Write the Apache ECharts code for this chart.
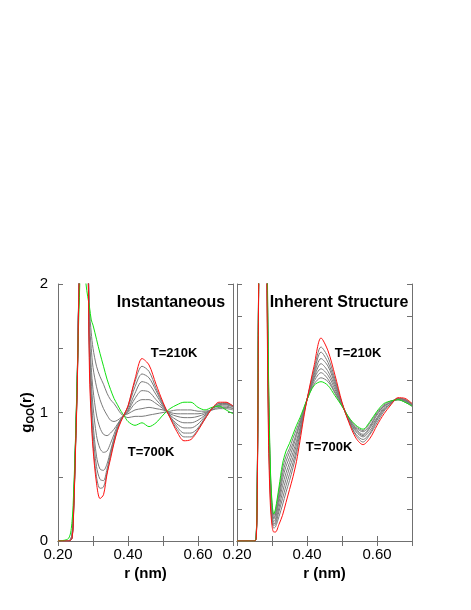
<!DOCTYPE html>
<html>
<head>
<meta charset="utf-8">
<script src="https://cdn.jsdelivr.net/npm/echarts@6/dist/echarts.min.js"></script>
<style>
  html, body { margin: 0; padding: 0; background: #fff; }
  #chart { width: 471px; height: 610px; }
</style>
</head>
<body>
<div id="chart"></div>
<script>
// r (nm) sample points, left panel (instantaneous)
var rInst = [0.20, 0.23, 0.24, 0.245, 0.25, 0.255, 0.26, 0.265, 0.27, 0.275,
  0.28, 0.285, 0.29, 0.295, 0.30, 0.31, 0.32, 0.33, 0.34, 0.35,
  0.36, 0.37, 0.38, 0.39, 0.40, 0.42, 0.44, 0.46, 0.48, 0.50,
  0.52, 0.54, 0.56, 0.58, 0.60, 0.62, 0.64, 0.66, 0.68, 0.70]

// T=210K (red)
var inst210 = [0, 0, 0.02, 0.25, 0.7, 1.2, 2.0, 2.7, 3.1, 3.2,
  3.0, 2.4, 1.3, 0.95, 0.72, 0.45, 0.33, 0.36, 0.52, 0.64,
  0.76, 0.86, 0.93, 0.99, 1.05, 1.26, 1.42, 1.37, 1.22, 1.08,
  0.96, 0.85, 0.78, 0.79, 0.86, 0.95, 1.03, 1.08, 1.08, 1.05]
// intermediate temperatures (grey)
var instMid = [
  [0, 0, 0.02, 0.26, 0.72, 1.22, 2.0, 2.65, 3.0, 3.05,
    2.9, 2.35, 1.4, 1.0, 0.76, 0.5, 0.41, 0.42, 0.53, 0.66,
    0.77, 0.87, 0.94, 0.99, 1.05, 1.24, 1.36, 1.32, 1.19, 1.07,
    0.96, 0.87, 0.81, 0.81, 0.87, 0.95, 1.03, 1.07, 1.075, 1.05],
  [0, 0, 0.02, 0.27, 0.73, 1.23, 2.0, 2.6, 2.9, 2.95,
    2.8, 2.3, 1.45, 1.08, 0.84, 0.58, 0.48, 0.47, 0.56, 0.68,
    0.79, 0.88, 0.95, 0.99, 1.04, 1.2, 1.3, 1.27, 1.17, 1.06,
    0.97, 0.89, 0.84, 0.84, 0.88, 0.96, 1.03, 1.07, 1.07, 1.05],
  [0, 0, 0.03, 0.28, 0.74, 1.24, 2.0, 2.55, 2.8, 2.85,
    2.7, 2.3, 1.5, 1.15, 0.92, 0.66, 0.56, 0.55, 0.6, 0.7,
    0.8, 0.88, 0.94, 0.98, 1.02, 1.15, 1.24, 1.22, 1.14, 1.05,
    0.97, 0.91, 0.88, 0.88, 0.91, 0.97, 1.03, 1.06, 1.065, 1.045],
  [0, 0, 0.03, 0.29, 0.75, 1.25, 2.0, 2.5, 2.75, 2.8,
    2.65, 2.3, 1.55, 1.25, 1.05, 0.82, 0.72, 0.69, 0.7, 0.76,
    0.83, 0.9, 0.95, 0.98, 1.01, 1.11, 1.17, 1.16, 1.1, 1.04,
    0.98, 0.94, 0.92, 0.92, 0.94, 0.98, 1.03, 1.055, 1.06, 1.04],
  [0, 0, 0.04, 0.3, 0.76, 1.26, 2.0, 2.45, 2.7, 2.75,
    2.6, 2.3, 1.6, 1.35, 1.18, 0.98, 0.88, 0.83, 0.82, 0.84,
    0.87, 0.91, 0.95, 0.98, 1.0, 1.07, 1.1, 1.1, 1.07, 1.03,
    0.99, 0.97, 0.96, 0.96, 0.97, 0.99, 1.03, 1.05, 1.05, 1.03],
  [0, 0, 0.05, 0.32, 0.77, 1.28, 2.0, 2.4, 2.65, 2.7,
    2.55, 2.3, 1.7, 1.5, 1.35, 1.2, 1.1, 1.03, 0.98, 0.94,
    0.93, 0.94, 0.96, 0.98, 0.99, 1.02, 1.03, 1.04, 1.03, 1.02,
    1.0, 0.99, 0.99, 0.99, 0.99, 1.0, 1.02, 1.04, 1.04, 1.03],
  [0, 0, 0.05, 0.34, 0.78, 1.3, 2.0, 2.35, 2.6, 2.65,
    2.5, 2.3, 1.8, 1.62, 1.5, 1.36, 1.28, 1.22, 1.15, 1.1,
    1.07, 1.03, 0.99, 0.97, 0.96, 0.97, 0.97, 0.98, 0.99, 1.0,
    1.01, 1.02, 1.02, 1.02, 1.01, 1.01, 1.02, 1.03, 1.03, 1.02]
]
// T=700K (green)
var inst700 = [0, 0.02, 0.15, 0.4, 0.8, 1.3, 1.8, 2.2, 2.35, 2.2,
  2.0, 1.9, 1.82, 1.72, 1.68, 1.57, 1.46, 1.36, 1.26, 1.18,
  1.11, 1.06, 1.01, 0.97, 0.93, 0.9, 0.92, 0.89, 0.92, 0.98,
  1.03, 1.06, 1.08, 1.08, 1.04, 1.02, 1.04, 1.05, 1.02, 0.99]

// r (nm) sample points, right panel (inherent structure)
var rInh = [0.20, 0.25, 0.255, 0.258, 0.261, 0.265, 0.27, 0.275, 0.28, 0.285,
  0.29, 0.295, 0.30, 0.305, 0.31, 0.32, 0.33, 0.34, 0.35, 0.36,
  0.37, 0.38, 0.39, 0.40, 0.42, 0.44, 0.46, 0.48, 0.50, 0.52,
  0.54, 0.56, 0.58, 0.60, 0.62, 0.64, 0.66, 0.68, 0.70]

var inh210 = [0, 0, 0.02, 0.4, 1.6, 3.5, 5.5, 6.0, 5.0, 2.2,
  0.8, 0.3, 0.12, 0.07, 0.07, 0.13, 0.2, 0.3, 0.4, 0.5,
  0.62, 0.78, 0.95, 1.1, 1.36, 1.58, 1.48, 1.29, 1.08, 0.92,
  0.8, 0.75, 0.8, 0.9, 0.99, 1.06, 1.115, 1.11, 1.07]
var inhMid = [
  [0, 0, 0.03, 0.42, 1.62, 3.46, 5.3, 5.72, 4.8, 2.28,
    0.9, 0.36, 0.16, 0.1, 0.11, 0.19, 0.28, 0.38, 0.47, 0.57,
    0.68, 0.82, 0.97, 1.1, 1.33, 1.51, 1.43, 1.26, 1.07, 0.93,
    0.82, 0.77, 0.83, 0.92, 1.01, 1.07, 1.11, 1.1, 1.07],
  [0, 0, 0.03, 0.43, 1.63, 3.43, 5.17, 5.54, 4.67, 2.33,
    0.97, 0.4, 0.18, 0.12, 0.13, 0.23, 0.33, 0.43, 0.52, 0.61,
    0.71, 0.84, 0.98, 1.1, 1.31, 1.47, 1.39, 1.24, 1.07, 0.93,
    0.83, 0.79, 0.84, 0.94, 1.02, 1.07, 1.11, 1.1, 1.06],
  [0, 0, 0.03, 0.45, 1.65, 3.41, 5.04, 5.36, 4.54, 2.38,
    1.03, 0.44, 0.2, 0.13, 0.15, 0.26, 0.38, 0.48, 0.57, 0.65,
    0.75, 0.86, 0.99, 1.1, 1.29, 1.42, 1.36, 1.22, 1.07, 0.94,
    0.85, 0.81, 0.86, 0.95, 1.03, 1.07, 1.11, 1.1, 1.06],
  [0, 0, 0.04, 0.46, 1.66, 3.38, 4.92, 5.19, 4.42, 2.43,
    1.09, 0.47, 0.22, 0.15, 0.17, 0.3, 0.43, 0.53, 0.61, 0.69,
    0.78, 0.88, 0.99, 1.1, 1.27, 1.38, 1.32, 1.2, 1.06, 0.94,
    0.86, 0.82, 0.88, 0.96, 1.04, 1.08, 1.11, 1.09, 1.06],
  [0, 0, 0.04, 0.47, 1.67, 3.36, 4.8, 5.02, 4.3, 2.48,
    1.15, 0.51, 0.25, 0.17, 0.2, 0.33, 0.48, 0.58, 0.65, 0.73,
    0.82, 0.91, 1.0, 1.1, 1.26, 1.34, 1.29, 1.18, 1.06, 0.95,
    0.87, 0.83, 0.89, 0.98, 1.05, 1.08, 1.1, 1.09, 1.06],
  [0, 0, 0.04, 0.48, 1.68, 3.34, 4.7, 4.88, 4.2, 2.52,
    1.2, 0.54, 0.26, 0.18, 0.21, 0.36, 0.52, 0.62, 0.69, 0.76,
    0.84, 0.92, 1.01, 1.1, 1.24, 1.31, 1.26, 1.16, 1.06, 0.95,
    0.88, 0.85, 0.9, 0.99, 1.05, 1.08, 1.1, 1.09, 1.05],
  [0, 0, 0.05, 0.49, 1.69, 3.32, 4.6, 4.74, 4.1, 2.56,
    1.25, 0.57, 0.28, 0.2, 0.23, 0.39, 0.56, 0.66, 0.72, 0.8,
    0.87, 0.94, 1.02, 1.1, 1.22, 1.27, 1.24, 1.15, 1.05, 0.96,
    0.89, 0.86, 0.92, 1.0, 1.06, 1.09, 1.1, 1.08, 1.05]
]
var inh700 = [0, 0, 0.05, 0.5, 1.7, 3.3, 4.5, 4.6, 4.0, 2.6,
  1.3, 0.6, 0.3, 0.21, 0.25, 0.42, 0.6, 0.7, 0.76, 0.83,
  0.9, 0.96, 1.03, 1.1, 1.21, 1.24, 1.21, 1.13, 1.05, 0.96,
  0.9, 0.87, 0.93, 1.01, 1.07, 1.09, 1.1, 1.08, 1.05]

var xTicks = [0.20, 0.40, 0.60]

var RED = '#ff1010'
var GREEN = '#10e010'
var GREY = '#7a7a7a'
var FRAME = '#707070'
var FONT = 'Liberation Sans, Arial, Helvetica, sans-serif'

function pairs (rs, vs) {
  return rs.map(function (r, i) { return [r, vs[i]] })
}

function curve (idx, rs, vs, color) {
  return {
    type: 'line',
    xAxisIndex: idx * 2,
    yAxisIndex: idx * 2,
    data: pairs(rs, vs),
    showSymbol: false,
    smooth: 0.3,
    clip: true,
    silent: true,
    lineStyle: { color: color, width: 1 }
  }
}

function xAxes (idx) {
  var base = {
    type: 'value',
    gridIndex: idx,
    min: 0.2,
    max: 0.7,
    interval: 0.1,
    splitLine: { show: false },
    axisLine: { show: true, lineStyle: { color: FRAME, width: 1 } },
    axisTick: { show: true, inside: true, length: 5, lineStyle: { color: FRAME } }
  }
  var bottom = Object.assign({}, base, {
    position: 'bottom',
    name: 'r (nm)',
    nameLocation: 'middle',
    nameGap: 25,
    nameTextStyle: { fontFamily: FONT, fontSize: 15, fontWeight: 'bold', color: '#000' },
    axisLabel: {
      show: true,
      margin: 6,
      fontFamily: FONT,
      fontSize: 15,
      color: '#000',
      showMaxLabel: false,
      formatter: function (v) {
        var ok = xTicks.some(function (t) { return Math.abs(t - v) < 1e-6 })
        return ok ? v.toFixed(2) : ''
      }
    }
  })
  var top = Object.assign({}, base, { position: 'top', axisLabel: { show: false } })
  return [bottom, top]
}

function yAxes (idx, step, labels) {
  var base = {
    type: 'value',
    gridIndex: idx,
    min: 0,
    max: 2,
    interval: step,
    splitLine: { show: false },
    axisLine: { show: true, lineStyle: { color: FRAME, width: 1 } },
    axisTick: { show: true, inside: true, length: 5, lineStyle: { color: FRAME } }
  }
  var left = Object.assign({}, base, {
    position: 'left',
    axisLabel: labels ? {
      show: true,
      margin: 10,
      fontFamily: FONT,
      fontSize: 15,
      color: '#000',
      formatter: function (v) { return (v % 1 === 0) ? String(v) : '' }
    } : { show: false }
  })
  if (labels) {
    left.name = '{g|g}{s|OO}{g|(r)}'
    left.nameLocation = 'middle'
    left.nameRotate = 90
    left.nameGap = 20
    left.nameTextStyle = {
      rich: {
        g: { fontFamily: FONT, fontSize: 15, fontWeight: 'bold', color: '#000', lineHeight: 18 },
        s: { fontFamily: FONT, fontSize: 10, fontWeight: 'bold', color: '#000', lineHeight: 10, verticalAlign: 'bottom' }
      }
    }
  }
  var right = Object.assign({}, base, { position: 'right', axisLabel: { show: false } })
  return [left, right]
}

var series = []
instMid.forEach(function (vs) { series.push(curve(0, rInst, vs, GREY)) })
series.push(curve(0, rInst, inst700, GREEN))
series.push(curve(0, rInst, inst210, RED))
inhMid.forEach(function (vs) { series.push(curve(1, rInh, vs, GREY)) })
series.push(curve(1, rInh, inh700, GREEN))
series.push(curve(1, rInh, inh210, RED))

function label (x, y, text, size) {
  return {
    type: 'text',
    x: x,
    y: y,
    style: {
      text: text,
      font: 'bold ' + size + 'px ' + FONT,
      fill: '#000',
      align: 'center',
      verticalAlign: 'middle'
    },
    z: 100
  }
}

var chart = echarts.init(document.getElementById('chart'), null, { renderer: 'canvas' })
chart.setOption({
  animation: false,
  backgroundColor: '#fff',
  grid: [
    { left: 58, top: 284, width: 175, height: 257 },
    { left: 237, top: 284, width: 175, height: 257 }
  ],
  xAxis: xAxes(0).concat(xAxes(1)),
  yAxis: yAxes(0, 0.5, true).concat(yAxes(1, 0.25, false)),
  series: series,
  graphic: [
    label(171, 303, 'Instantaneous', 16),
    label(339, 303, 'Inherent Structure', 16),
    label(174, 353, 'T=210K', 13),
    label(151, 452, 'T=700K', 13),
    label(358, 353, 'T=210K', 13),
    label(329, 447, 'T=700K', 13)
  ]
})
</script>
</body>
</html>
